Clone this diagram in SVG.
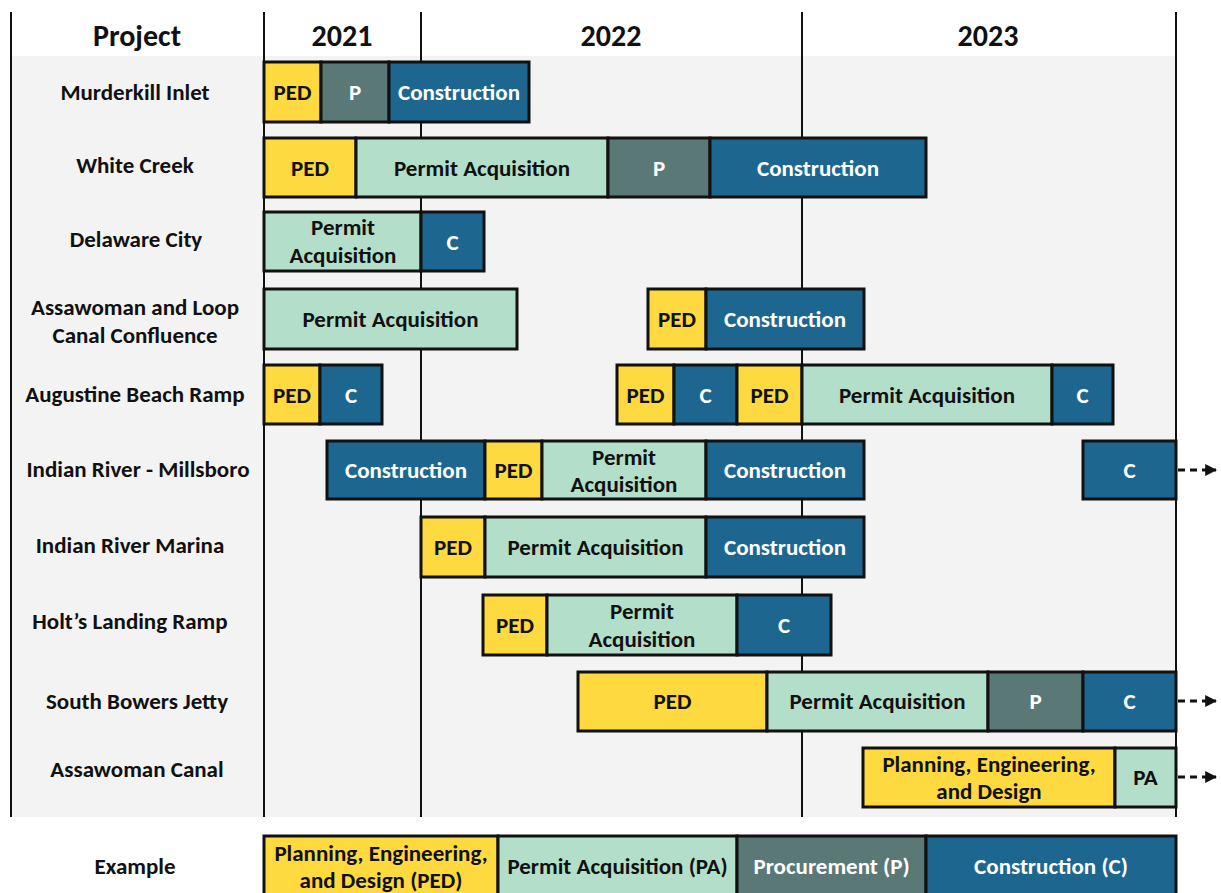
<svg xmlns="http://www.w3.org/2000/svg" width="1221" height="893" viewBox="0 0 1221 893">
  <style>
    text { font-family: Carlito, Lato, "Liberation Sans", sans-serif; font-weight: bold; text-anchor: middle; }
    .hd { font-size: 30px; fill: #111; }
    .nm { font-size: 23px; fill: #111; }
    .bt { font-size: 23px; }
    .dk { fill: #111; }
    .lt { fill: #fff; }
    .bar { stroke: #111; stroke-width: 3; }
    .ped { fill: #FFD940; }
    .pa { fill: #B3DFCA; }
    .p { fill: #5A7875; }
    .c { fill: #1D668F; }
    .grid { stroke: #111; stroke-width: 2; }
    .cont { stroke: #111; stroke-width: 3; stroke-dasharray: 7 5; fill: none; }
  </style>
  <defs>
    <marker id="head" viewBox="0 0 10 10" refX="9" refY="5" markerWidth="4" markerHeight="4" orient="auto">
      <path d="M0,0 L10,5 L0,10 Z" fill="#111"/>
    </marker>
  </defs>

  <rect width="1221" height="893" fill="#fff"/>
  <!-- chart background -->
  <rect x="11" y="56" width="1165" height="761" fill="#F3F3F3"/>

  <!-- year grid -->
  <g id="grid">
    <line class="grid" x1="11" y1="12" x2="11" y2="817"/>
    <line class="grid" x1="264" y1="12" x2="264" y2="817"/>
    <line class="grid" x1="421" y1="12" x2="421" y2="817"/>
    <line class="grid" x1="802" y1="12" x2="802" y2="817"/>
    <line class="grid" x1="1176" y1="12" x2="1176" y2="817"/>
  </g>

  <g id="header">
    <text class="hd" x="137" y="46">Project</text>
    <text class="hd" x="342" y="46">2021</text>
    <text class="hd" x="611" y="46">2022</text>
    <text class="hd" x="988" y="46">2023</text>
  </g>

  <g id="labels">
    <text class="nm" x="135" y="100">Murderkill Inlet</text>
    <text class="nm" x="135" y="173">White Creek</text>
    <text class="nm" x="136" y="247">Delaware City</text>
    <text class="nm" x="135" y="315">Assawoman and Loop</text>
    <text class="nm" x="135" y="343">Canal Confluence</text>
    <text class="nm" x="135" y="402">Augustine Beach Ramp</text>
    <text class="nm" x="138" y="477">Indian River - Millsboro</text>
    <text class="nm" x="130" y="553">Indian River Marina</text>
    <text class="nm" x="130" y="629">Holt’s Landing Ramp</text>
    <text class="nm" x="137" y="709">South Bowers Jetty</text>
    <text class="nm" x="137" y="777">Assawoman Canal</text>
  </g>

  <!-- continuation arrows past the chart -->
  <g id="connectors">
    <line class="cont" x1="1178" y1="470" x2="1216" y2="470" marker-end="url(#head)"/>
    <line class="cont" x1="1178" y1="701" x2="1216" y2="701" marker-end="url(#head)"/>
    <line class="cont" x1="1178" y1="777" x2="1216" y2="777" marker-end="url(#head)"/>
  </g>

  <g id="murderkill-inlet">
    <rect class="bar ped" x="264" y="62" width="57" height="60"/>
    <rect class="bar p" x="321" y="62" width="68" height="60"/>
    <rect class="bar c" x="389" y="62" width="140" height="60"/>
    <text class="bt dk" x="292.5" y="100">PED</text>
    <text class="bt lt" x="355" y="100">P</text>
    <text class="bt lt" x="459" y="100">Construction</text>
  </g>

  <g id="white-creek">
    <rect class="bar ped" x="264" y="138" width="92" height="59"/>
    <rect class="bar pa" x="356" y="138" width="252" height="59"/>
    <rect class="bar p" x="608" y="138" width="102" height="59"/>
    <rect class="bar c" x="710" y="138" width="216" height="59"/>
    <text class="bt dk" x="310" y="176">PED</text>
    <text class="bt dk" x="482" y="176">Permit Acquisition</text>
    <text class="bt lt" x="659" y="176">P</text>
    <text class="bt lt" x="818" y="176">Construction</text>
  </g>

  <g id="delaware-city">
    <rect class="bar pa" x="264" y="212" width="157" height="59"/>
    <rect class="bar c" x="421" y="212" width="63" height="59"/>
    <text class="bt dk" x="343" y="235">Permit</text>
    <text class="bt dk" x="343" y="263">Acquisition</text>
    <text class="bt lt" x="452.5" y="250">C</text>
  </g>

  <g id="assawoman-loop">
    <rect class="bar pa" x="264" y="289" width="253" height="60"/>
    <rect class="bar ped" x="648" y="289" width="58" height="60"/>
    <rect class="bar c" x="706" y="289" width="158" height="60"/>
    <text class="bt dk" x="390.5" y="327">Permit Acquisition</text>
    <text class="bt dk" x="677" y="327">PED</text>
    <text class="bt lt" x="785" y="327">Construction</text>
  </g>

  <g id="augustine-beach">
    <rect class="bar ped" x="264" y="365" width="56" height="59"/>
    <rect class="bar c" x="320" y="365" width="62" height="59"/>
    <rect class="bar ped" x="617" y="365" width="57" height="59"/>
    <rect class="bar c" x="674" y="365" width="63" height="59"/>
    <rect class="bar ped" x="737" y="365" width="65" height="59"/>
    <rect class="bar pa" x="802" y="365" width="250" height="59"/>
    <rect class="bar c" x="1052" y="365" width="61" height="59"/>
    <text class="bt dk" x="292" y="403">PED</text>
    <text class="bt lt" x="351" y="403">C</text>
    <text class="bt dk" x="645.5" y="403">PED</text>
    <text class="bt lt" x="705.5" y="403">C</text>
    <text class="bt dk" x="769.5" y="403">PED</text>
    <text class="bt dk" x="927" y="403">Permit Acquisition</text>
    <text class="bt lt" x="1082.5" y="403">C</text>
  </g>

  <g id="indian-river-millsboro">
    <rect class="bar c" x="327" y="441" width="158" height="58"/>
    <rect class="bar ped" x="485" y="441" width="57" height="58"/>
    <rect class="bar pa" x="542" y="441" width="164" height="58"/>
    <rect class="bar c" x="706" y="441" width="158" height="58"/>
    <rect class="bar c" x="1083" y="441" width="93" height="58"/>
    <text class="bt lt" x="406" y="478">Construction</text>
    <text class="bt dk" x="513.5" y="478">PED</text>
    <text class="bt dk" x="624" y="465">Permit</text>
    <text class="bt dk" x="624" y="492">Acquisition</text>
    <text class="bt lt" x="785" y="478">Construction</text>
    <text class="bt lt" x="1129.5" y="478">C</text>
  </g>

  <g id="indian-river-marina">
    <rect class="bar ped" x="421" y="517" width="64" height="60"/>
    <rect class="bar pa" x="485" y="517" width="221" height="60"/>
    <rect class="bar c" x="706" y="517" width="158" height="60"/>
    <text class="bt dk" x="453" y="555">PED</text>
    <text class="bt dk" x="595.5" y="555">Permit Acquisition</text>
    <text class="bt lt" x="785" y="555">Construction</text>
  </g>

  <g id="holts-landing">
    <rect class="bar ped" x="483" y="595" width="64" height="60"/>
    <rect class="bar pa" x="547" y="595" width="190" height="60"/>
    <rect class="bar c" x="737" y="595" width="94" height="60"/>
    <text class="bt dk" x="515" y="633">PED</text>
    <text class="bt dk" x="642" y="619">Permit</text>
    <text class="bt dk" x="642" y="647">Acquisition</text>
    <text class="bt lt" x="784" y="633">C</text>
  </g>

  <g id="south-bowers">
    <rect class="bar ped" x="578" y="672" width="189" height="59"/>
    <rect class="bar pa" x="767" y="672" width="221" height="59"/>
    <rect class="bar p" x="988" y="672" width="95" height="59"/>
    <rect class="bar c" x="1083" y="672" width="93" height="59"/>
    <text class="bt dk" x="672.5" y="709">PED</text>
    <text class="bt dk" x="877.5" y="709">Permit Acquisition</text>
    <text class="bt lt" x="1035.5" y="709">P</text>
    <text class="bt lt" x="1129.5" y="709">C</text>
  </g>

  <g id="assawoman-canal">
    <rect class="bar ped" x="863" y="748" width="252" height="59"/>
    <rect class="bar pa" x="1115" y="748" width="61" height="59"/>
    <text class="bt dk" x="989" y="772">Planning, Engineering,</text>
    <text class="bt dk" x="989" y="799">and Design</text>
    <text class="bt dk" x="1145.5" y="785">PA</text>
  </g>

  <g id="legend">
    <text class="nm" x="135" y="874">Example</text>
    <rect class="bar ped" x="264" y="836" width="234" height="70"/>
    <rect class="bar pa" x="498" y="836" width="239" height="70"/>
    <rect class="bar p" x="737" y="836" width="189" height="70"/>
    <rect class="bar c" x="926" y="836" width="250" height="70"/>
    <text class="bt dk" x="381" y="861">Planning, Engineering,</text>
    <text class="bt dk" x="381" y="888">and Design (PED)</text>
    <text class="bt dk" x="617.5" y="874">Permit Acquisition (PA)</text>
    <text class="bt lt" x="831.5" y="874">Procurement (P)</text>
    <text class="bt lt" x="1051" y="874">Construction (C)</text>
  </g>
</svg>
